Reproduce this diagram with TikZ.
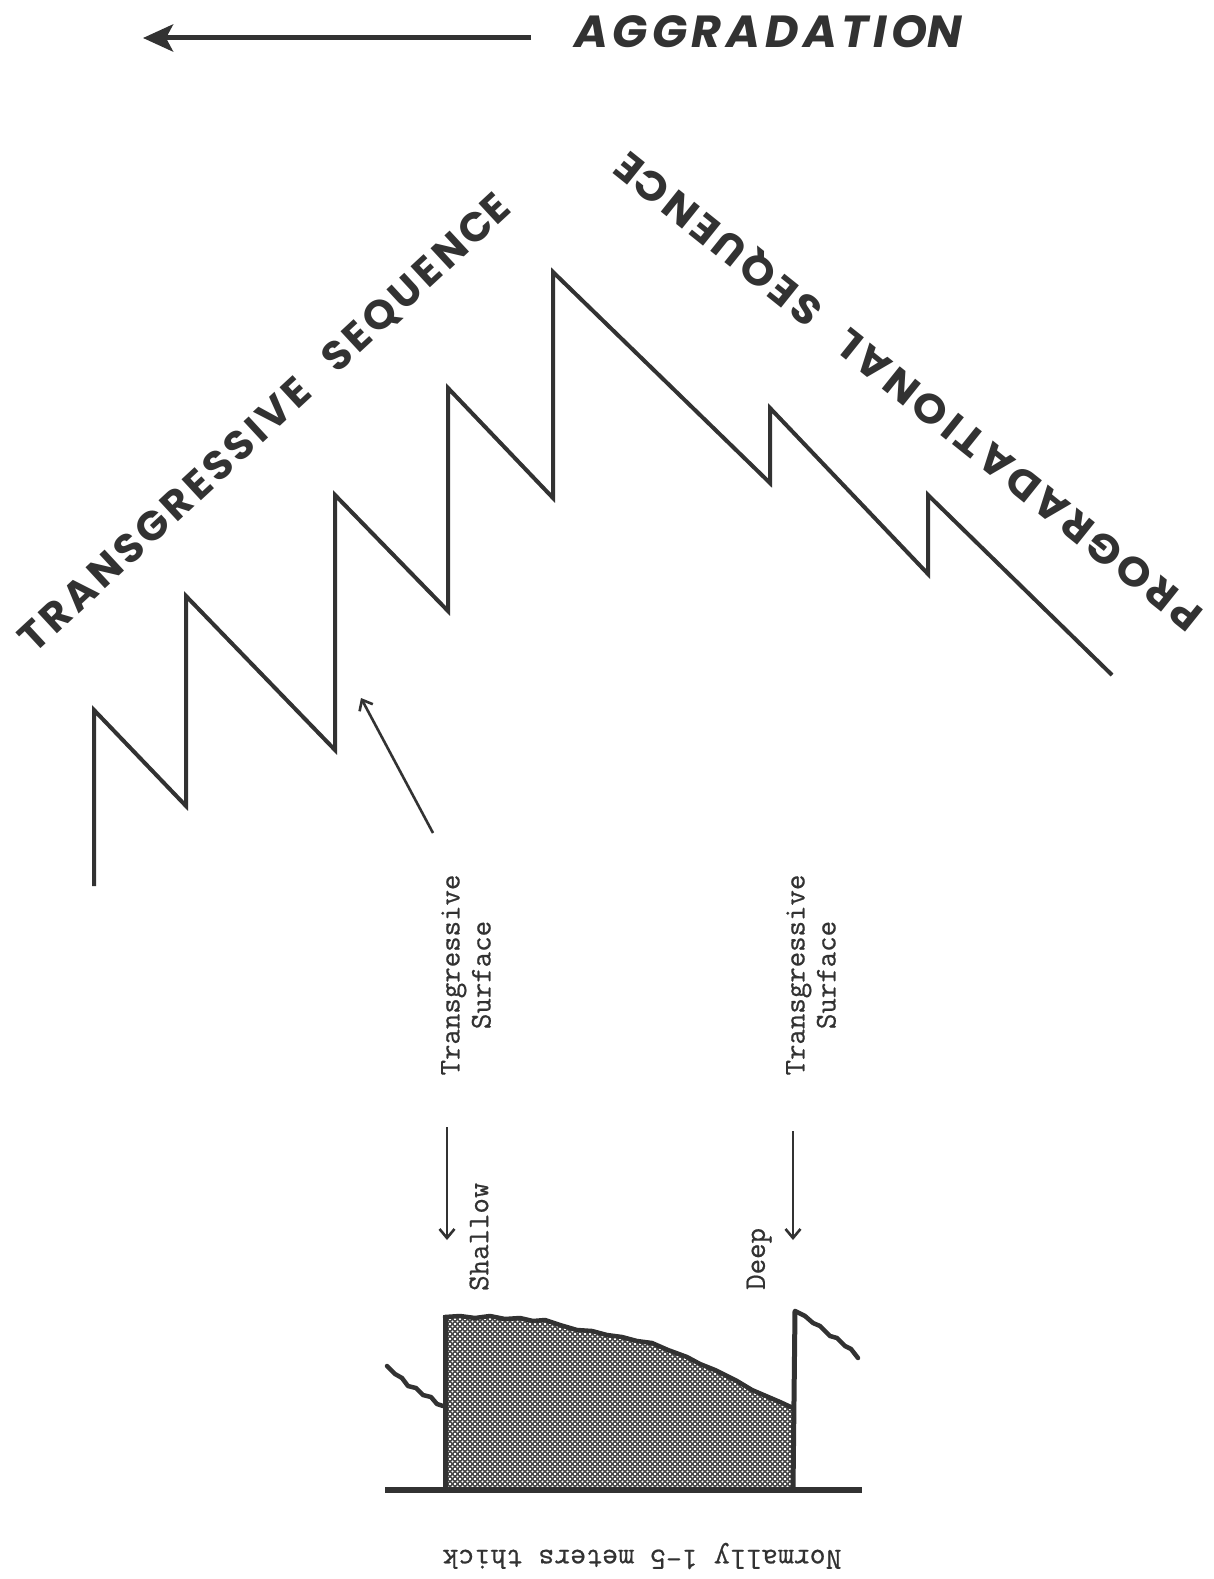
\documentclass[tikz,border=0pt]{standalone}
\usepackage{fontspec}
\usetikzlibrary{arrows.meta,patterns}
\newfontfamily\geo{Poppins}
\newfontfamily\typew[FakeBold=0.6]{Latin Modern Mono}
\definecolor{ink}{RGB}{50,50,50}
\pgfdeclarepatternformonly{bigdots}{\pgfqpoint{-1pt}{-1pt}}{\pgfqpoint{6pt}{6pt}}{\pgfqpoint{5pt}{5pt}}{%
  \pgfpathcircle{\pgfqpoint{0pt}{0pt}}{1.2pt}%
  \pgfpathcircle{\pgfqpoint{2.5pt}{2.5pt}}{1.2pt}%
  \pgfpathcircle{\pgfqpoint{5pt}{5pt}}{1.2pt}%
  \pgfpathcircle{\pgfqpoint{0pt}{5pt}}{1.2pt}%
  \pgfpathcircle{\pgfqpoint{5pt}{0pt}}{1.2pt}%
  \pgfusepath{fill}}
\begin{document}
\begin{tikzpicture}[x=1pt,y=-1pt,
  zig/.style={draw=ink,line width=4pt,line join=miter,line cap=butt},
  thinarrow/.style={draw=ink,line width=2.6pt,-{Straight Barb[length=9pt,width=15pt,line width=2.6pt]}},
  typetext/.style={font=\typew\fontsize{30}{31}\selectfont,text=ink,inner sep=0pt},
  bigtext/.style={text=ink,inner sep=0pt},
  wavy/.style={draw=ink,line width=4.5pt,line join=round,line cap=round}]
\useasboundingbox (0,0) rectangle (1214,1579);
\fill[white] (0,0) rectangle (1214,1579);

% top arrow
\coordinate (aggS) at (531,38);
\coordinate (aggE) at (143,38);
\draw[draw=ink,line width=5pt,-{Stealth[length=30pt,width=27pt,inset=7pt]}] (aggS) -- (aggE);
\node[bigtext,anchor=west] (agg) at (574,32) {\resizebox{388pt}{32pt}{\geo\bfseries\itshape\addfontfeatures{LetterSpace=10}AGGRADATIO\addfontfeatures{LetterSpace=0}N}};

% sequence labels
\node[bigtext,rotate=42.8] (trans) at (266,424) {\resizebox{652pt}{29pt}{\geo\bfseries\addfontfeatures{LetterSpace=9}TRANSGRESSIVE\hspace{0.75em}SEQUENC\addfontfeatures{LetterSpace=0}E}};
\node[bigtext,rotate=141.3] (prog) at (910,390) {\resizebox{738pt}{29pt}{\geo\bfseries\addfontfeatures{LetterSpace=9}PROGRADATIONAL\hspace{0.75em}SEQUENC\addfontfeatures{LetterSpace=0}E}};

% zigzag
\coordinate (z0) at (94,886);
\coordinate (z1) at (94,710);
\coordinate (z2) at (186,806);
\coordinate (z3) at (186,596);
\coordinate (z4) at (335,750);
\coordinate (z5) at (335,495);
\coordinate (z6) at (448,611);
\coordinate (z7) at (448,388);
\coordinate (z8) at (553,498);
\coordinate (z9) at (553,272);
\coordinate (z10) at (770,483);
\coordinate (z11) at (770,408);
\coordinate (z12) at (928,574);
\coordinate (z13) at (928,495);
\coordinate (z14) at (1112,675);
\draw[zig] (z0) -- (z1) -- (z2) -- (z3) -- (z4) -- (z5) -- (z6) -- (z7) -- (z8) -- (z9) -- (z10) -- (z11) -- (z12) -- (z13) -- (z14);

% arrow to transgressive surface
\coordinate (tsA) at (433,833);
\coordinate (tsB) at (361,698);
\draw[thinarrow] (tsA) -- (tsB);

% labels
\node[typetext,rotate=90,align=center] (ts1) at (466,975) {Transgressive\\Surface};
\node[typetext,rotate=90,align=center] (ts2) at (811,975) {Transgressive\\Surface};

\coordinate (sa1) at (447,1127);
\coordinate (sa2) at (447,1240);
\draw[thinarrow] (sa1) -- (sa2);
\coordinate (da1) at (793,1131);
\coordinate (da2) at (793,1240);
\draw[thinarrow] (da1) -- (da2);

\node[typetext,rotate=90,anchor=west] (shallow) at (479,1291) {Shallow};
\node[typetext,rotate=90,anchor=west] (deep) at (759,1290) {Deep};

% bottom block
\coordinate (bl) at (445,1490);
\coordinate (br) at (793,1490);
\path[fill=ink!90] (bl) -- (445,1317) -- (460,1316) -- (475,1318) -- (490,1316) -- (505,1319) -- (520,1318) -- (533,1321) -- (545,1320) -- (560,1325) -- (577,1330) -- (592,1331) -- (607,1335) -- (622,1337) -- (637,1341) -- (652,1343) -- (668,1350) -- (687,1357) -- (700,1364) -- (715,1370) -- (737,1381) -- (752,1390) -- (766,1396) -- (780,1402) -- (793,1408) -- (br) -- cycle;
\path[pattern=bigdots,pattern color=white] (bl) -- (445,1317) -- (460,1316) -- (475,1318) -- (490,1316) -- (505,1319) -- (520,1318) -- (533,1321) -- (545,1320) -- (560,1325) -- (577,1330) -- (592,1331) -- (607,1335) -- (622,1337) -- (637,1341) -- (652,1343) -- (668,1350) -- (687,1357) -- (700,1364) -- (715,1370) -- (737,1381) -- (752,1390) -- (766,1396) -- (780,1402) -- (793,1408) -- (br) -- cycle;
\draw[wavy] (445,1317) -- (460,1316) -- (475,1318) -- (490,1316) -- (505,1319) -- (520,1318) -- (533,1321) -- (545,1320) -- (560,1325) -- (577,1330) -- (592,1331) -- (607,1335) -- (622,1337) -- (637,1341) -- (652,1343) -- (668,1350) -- (687,1357) -- (700,1364) -- (715,1370) -- (737,1381) -- (752,1390) -- (766,1396) -- (780,1402) -- (793,1408);
\draw[draw=ink,line width=5pt] (bl) -- (445,1315);
\coordinate (spike) at (795,1311);
\draw[draw=ink,line width=5pt] (br) -- (spike);
\draw[wavy] (spike) -- (805,1316) -- (813,1323) -- (820,1326) -- (830,1336) -- (837,1338) -- (845,1346) -- (851,1349) -- (858,1358);
\draw[wavy] (387,1366) -- (395,1374) -- (402,1378) -- (408,1386) -- (416,1388) -- (423,1395) -- (431,1397) -- (437,1404) -- (443,1406);
\coordinate (base1) at (385,1490);
\coordinate (base2) at (862,1490);
\draw[draw=ink,line width=5.5pt] (base1) -- (base2);

\node[typetext,rotate=180,font=\typew\fontsize{31}{31}\selectfont] (thick) at (642,1556) {Normally 1-5 meters thick};
\end{tikzpicture}
\end{document}
